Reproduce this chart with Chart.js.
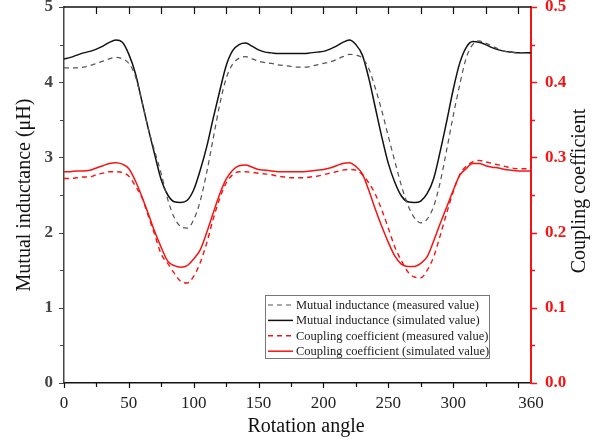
<!DOCTYPE html>
<html lang="en">
<head>
<meta charset="UTF-8">
<title>Mutual inductance and coupling coefficient</title>
<script src="https://cdn.jsdelivr.net/npm/chart.js@4.4.0/dist/chart.umd.min.js"></script>
<style>
    html, body { margin: 0; padding: 0; background: #fff; }
    #wrapper { width: 611px; height: 442px; position: relative; }
</style>
</head>
<body>
<div id="wrapper"><canvas id="canvas"></canvas></div>
<script>
// rotation angle (deg)
const angles = [0,5,10,15,20,25,30,35,40,45,50,55,60,65,70,75,80,85,90,95,100,105,110,115,120,
    125,130,135,140,145,150,155,160,165,170,175,180,185,190,195,200,205,210,215,220,225,230,235,240,
    245,250,255,260,265,270,275,280,285,290,295,300,305,310,315,320,325,330,335,340,345,350,355,360];

// mutual inductance, uH
const inductanceMeasured = [4.19,4.19,4.19,4.20,4.22,4.25,4.28,4.31,4.33,4.31,4.25,4.08,3.75,3.38,3.08,2.78,2.44,2.20,2.08,2.06,
    2.17,2.42,2.80,3.25,3.70,4.05,4.24,4.32,4.34,4.31,4.28,4.26,4.25,4.23,4.22,4.21,4.20,4.20,4.21,4.23,
    4.25,4.27,4.30,4.34,4.37,4.36,4.32,4.18,3.92,3.62,3.28,2.95,2.63,2.37,2.20,2.13,2.18,2.35,2.67,3.10,
    3.55,3.96,4.32,4.50,4.55,4.52,4.48,4.44,4.41,4.40,4.39,4.39,4.38];
const inductanceSimulated = [4.31,4.33,4.36,4.39,4.41,4.44,4.48,4.53,4.56,4.53,4.37,4.12,3.75,3.38,3.03,2.70,2.50,2.41,2.40,2.43,
    2.57,2.83,3.14,3.52,3.88,4.22,4.42,4.50,4.52,4.48,4.43,4.40,4.39,4.38,4.38,4.38,4.38,4.38,4.39,4.40,
    4.41,4.44,4.48,4.53,4.56,4.50,4.36,4.05,3.66,3.27,2.92,2.67,2.49,2.41,2.40,2.42,2.52,2.72,3.08,3.48,
    3.90,4.25,4.46,4.54,4.53,4.50,4.46,4.43,4.41,4.40,4.39,4.39,4.39];

// coupling coefficient
const couplingMeasured = [0.272,0.272,0.273,0.274,0.274,0.277,0.279,0.281,0.281,0.280,0.275,0.262,0.247,0.222,0.197,0.171,0.159,0.146,0.135,0.133,
    0.142,0.160,0.186,0.218,0.245,0.266,0.277,0.281,0.281,0.280,0.279,0.278,0.277,0.275,0.274,0.273,0.273,0.273,0.274,0.275,
    0.277,0.279,0.281,0.283,0.284,0.283,0.277,0.266,0.251,0.230,0.206,0.181,0.163,0.148,0.141,0.140,0.150,0.168,0.196,0.226,
    0.254,0.277,0.288,0.294,0.296,0.294,0.292,0.290,0.288,0.286,0.285,0.285,0.285];
const couplingSimulated = [0.281,0.281,0.282,0.282,0.283,0.286,0.289,0.292,0.293,0.291,0.285,0.269,0.248,0.225,0.201,0.180,0.162,0.156,0.154,0.156,
    0.165,0.177,0.200,0.226,0.251,0.271,0.283,0.289,0.290,0.287,0.284,0.283,0.282,0.281,0.281,0.281,0.281,0.281,0.282,0.283,
    0.284,0.286,0.289,0.292,0.293,0.288,0.278,0.256,0.231,0.208,0.187,0.169,0.158,0.155,0.155,0.159,0.168,0.189,0.212,0.234,
    0.256,0.276,0.285,0.292,0.292,0.289,0.287,0.286,0.284,0.283,0.282,0.282,0.282];

const seriesLabels = [
    'Mutual inductance (measured value)',
    'Mutual inductance (simulated value)',
    'Coupling coefficient (measured value)',
    'Coupling coefficient (simulated value)'
];

const serif = "'Liberation Serif', 'DejaVu Serif', serif";
const RED = 'rgb(245,20,20)';

function toPoints(values) {
    return angles.map((a, i) => ({x: a, y: values[i]}));
}

// no extra room for half tick labels at the ends
function noEdgePadding(s) {
    s.paddingTop = 0;
    s.paddingBottom = 0;
    s.paddingLeft = 0;
    s.paddingRight = 0;
}

// axis titles, frame, tick marks and the boxed legend
const decorations = {
    id: 'decorations',
    afterDraw(chart) {
        const {ctx, chartArea: a, scales} = chart;
        const sx = scales.x, yl = scales.y, yr = scales.y1;
        ctx.save();

        // top frame
        ctx.strokeStyle = '#111';
        ctx.lineWidth = 1.5;
        ctx.beginPath();
        ctx.moveTo(a.left, a.top);
        ctx.lineTo(a.right, a.top);
        ctx.stroke();

        // x ticks (bottom outward, top inward)
        ctx.lineWidth = 1.2;
        ctx.beginPath();
        for (let v = 0; v <= 360; v += 25) {
            const px = Math.round(sx.getPixelForValue(v)) + 0.5;
            const len = v % 50 === 0 ? 5 : 4;
            ctx.moveTo(px, a.bottom);
            ctx.lineTo(px, a.bottom + len);
            if (v > 0 && v < 360) {
                ctx.moveTo(px, a.top);
                ctx.lineTo(px, a.top + 7);
            }
        }
        ctx.stroke();

        // left ticks
        ctx.strokeStyle = '#444';
        ctx.beginPath();
        for (let v = 0; v <= 5; v += 0.5) {
            const py = Math.round(yl.getPixelForValue(v)) + 0.5;
            const len = Number.isInteger(v) ? 5 : 4;
            ctx.moveTo(a.left, py);
            ctx.lineTo(a.left - len, py);
        }
        ctx.stroke();

        // right ticks
        ctx.strokeStyle = RED;
        ctx.lineWidth = 1.5;
        ctx.beginPath();
        for (let k = 0; k <= 10; k++) {
            const py = Math.round(yr.getPixelForValue(k * 0.05)) + 0.5;
            const len = k % 2 === 0 ? 6 : 4;
            ctx.moveTo(a.right, py);
            ctx.lineTo(a.right + len, py);
        }
        ctx.stroke();

        // axis titles
        ctx.fillStyle = '#111';
        ctx.font = '20px ' + serif;
        ctx.textAlign = 'center';
        ctx.textBaseline = 'middle';
        ctx.fillText('Rotation angle', 306, 427);
        ctx.save();
        ctx.translate(25, (a.top + a.bottom) / 2);
        ctx.rotate(-Math.PI / 2);
        ctx.fillText('Mutual inductance (\u03BCH)', 0, 0);
        ctx.restore();
        ctx.save();
        ctx.translate(580, 191);
        ctx.rotate(-Math.PI / 2);
        ctx.fillText('Coupling coefficient', 0, 0);
        ctx.restore();

        // legend box
        const box = {left: 265.5, top: 295.5, right: 489.5, bottom: 358.5};
        ctx.fillStyle = '#fff';
        ctx.fillRect(box.left, box.top, box.right - box.left, box.bottom - box.top);
        ctx.strokeStyle = '#777';
        ctx.lineWidth = 1;
        ctx.strokeRect(box.left, box.top, box.right - box.left, box.bottom - box.top);
        ctx.font = '12.5px ' + serif;
        ctx.textAlign = 'left';
        ctx.textBaseline = 'middle';
        chart.data.datasets.forEach((ds, i) => {
            const cy = 305 + i * 15.4;
            ctx.strokeStyle = ds.borderColor;
            ctx.lineWidth = ds.borderWidth;
            ctx.setLineDash(ds.borderDash || []);
            ctx.beginPath();
            ctx.moveTo(268, cy);
            ctx.lineTo(293, cy);
            ctx.stroke();
            ctx.setLineDash([]);
            ctx.fillStyle = '#222';
            ctx.fillText(ds.label, 296, cy + 0.5);
        });
        ctx.restore();
    }
};

const options = {
    type: 'line',
    data: {
        datasets: [{
            label: seriesLabels[0],
            data: toPoints(inductanceMeasured),
            yAxisID: 'y',
            borderColor: '#555',
            borderWidth: 1.2,
            borderDash: [5, 4]
        }, {
            label: seriesLabels[1],
            data: toPoints(inductanceSimulated),
            yAxisID: 'y',
            borderColor: '#111',
            borderWidth: 1.5
        }, {
            label: seriesLabels[2],
            data: toPoints(couplingMeasured),
            yAxisID: 'y1',
            borderColor: RED,
            borderWidth: 1.4,
            borderDash: [5, 4]
        }, {
            label: seriesLabels[3],
            data: toPoints(couplingSimulated),
            yAxisID: 'y1',
            borderColor: RED,
            borderWidth: 1.5
        }]
    },
    options: {
        responsive: true,
        maintainAspectRatio: false,
        animation: false,
        layout: { padding: { top: 7, left: 0, right: 0, bottom: 0 } },
        elements: {
            point: { radius: 0 },
            line: { cubicInterpolationMode: 'monotone', fill: false }
        },
        plugins: {
            legend: { display: false },
            tooltip: { enabled: false }
        },
        scales: {
            x: {
                type: 'linear',
                min: 0,
                max: 360,
                afterFit: s => { s.height = 59; noEdgePadding(s); },
                grid: { display: false, drawTicks: false },
                border: { color: '#111', width: 1.5 },
                ticks: { stepSize: 50, padding: 10, color: '#222', font: { family: serif, size: 17 } }
            },
            y: {
                position: 'left',
                min: 0,
                max: 5,
                afterFit: s => { s.width = 64; noEdgePadding(s); },
                grid: { display: false, drawTicks: false },
                border: { color: '#444', width: 1.5 },
                ticks: { stepSize: 1, padding: 11, color: '#444', font: { family: serif, size: 17, weight: 'bold' } }
            },
            y1: {
                position: 'right',
                min: 0,
                max: 0.5,
                afterFit: s => { s.width = 80; noEdgePadding(s); },
                grid: { display: false, drawTicks: false },
                border: { color: RED, width: 2 },
                ticks: {
                    stepSize: 0.1,
                    padding: 14,
                    color: RED,
                    font: { family: serif, size: 17, weight: 'bold' },
                    callback: v => v.toFixed(1)
                }
            }
        }
    },
    plugins: [decorations]
};

let chart1 = new Chart(document.getElementById('canvas'), options);
</script>
</body>
</html>
